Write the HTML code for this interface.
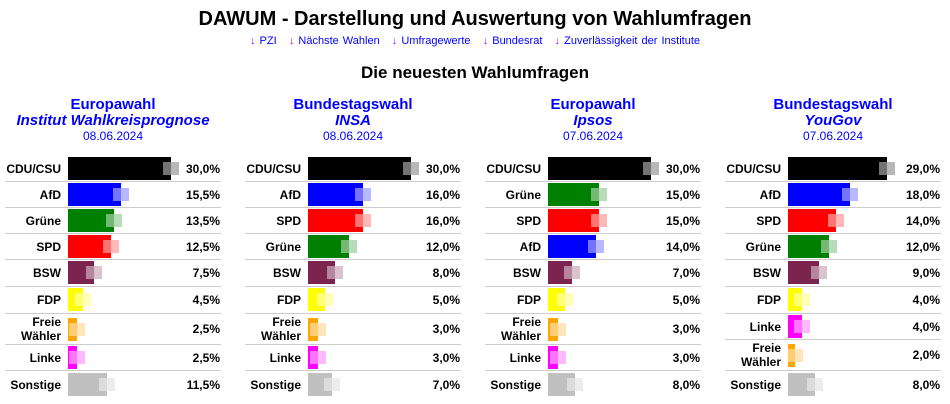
<!DOCTYPE html>
<html><head><meta charset="utf-8"><style>
body{margin:0;width:950px;height:404px;background:#fff;font-family:"Liberation Sans",Arial,sans-serif;position:relative;overflow:hidden}
.t{position:absolute;left:0;width:950px;text-align:center}
.h{position:absolute;width:240px;text-align:center;color:#00f;font-weight:bold;font-size:15px;line-height:16px}
.h i{display:block}
.h span{display:block;font-weight:normal;font-size:12px;line-height:14px}
.r{position:absolute;width:216px;border-bottom:1px solid #ccc;box-sizing:border-box}
.r.l{border-bottom:none}
.lb{position:absolute;right:160px;top:0;height:100%;display:flex;align-items:center;justify-content:flex-end;text-align:right;font-size:12px;font-weight:bold;line-height:14px}
.v{position:absolute;right:1px;top:0;height:100%;display:flex;align-items:center;font-size:12px;font-weight:bold}
.b{position:absolute;left:63px;top:1px;height:23px}
.b::after{content:"";position:absolute;right:0;top:5px;bottom:5px;width:min(8px,100%);background:rgba(255,255,255,.45)}
.b::before{content:"";position:absolute;left:100%;top:5px;bottom:5px;width:8px;background:inherit;opacity:.28}
.ar{color:#a0f}
</style></head><body>
<div class="t" style="top:8px;font-size:20px;font-weight:bold">DAWUM - Darstellung und Auswertung von Wahlumfragen</div>
<div class="t" style="top:35px;font-size:11px;color:#00f;word-spacing:1px"><span class="ar">↓</span> PZI &nbsp; <span class="ar">↓</span> Nächste Wahlen &nbsp; <span class="ar">↓</span> Umfragewerte &nbsp; <span class="ar">↓</span> Bundesrat &nbsp; <span class="ar">↓</span> Zuverlässigkeit der Institute</div>
<div class="t" style="top:63px;font-size:17px;font-weight:bold">Die neuesten Wahlumfragen</div>

<div class="h" style="left:-7px;top:97px">Europawahl<i>Institut Wahlkreisprognose</i><span>08.06.2024</span></div>
<div class="h" style="left:233px;top:97px">Bundestagswahl<i>INSA</i><span>08.06.2024</span></div>
<div class="h" style="left:473px;top:97px">Europawahl<i>Ipsos</i><span>07.06.2024</span></div>
<div class="h" style="left:713px;top:97px">Bundestagswahl<i>YouGov</i><span>07.06.2024</span></div>

<!-- Panel 1 -->
<div class="r" style="left:5px;top:156px;height:26px"><div class="lb">CDU/CSU</div><div class="b" style="width:103px;background:#000"></div><div class="v">30,0%</div></div>
<div class="r" style="left:5px;top:182px;height:26px"><div class="lb">AfD</div><div class="b" style="width:53px;background:#00f"></div><div class="v">15,5%</div></div>
<div class="r" style="left:5px;top:208px;height:26px"><div class="lb">Grüne</div><div class="b" style="width:46px;background:#008000"></div><div class="v">13,5%</div></div>
<div class="r" style="left:5px;top:234px;height:26px"><div class="lb">SPD</div><div class="b" style="width:43px;background:#f00"></div><div class="v">12,5%</div></div>
<div class="r" style="left:5px;top:260px;height:27px"><div class="lb">BSW</div><div class="b" style="width:26px;background:#7b2450"></div><div class="v">7,5%</div></div>
<div class="r" style="left:5px;top:287px;height:27px"><div class="lb">FDP</div><div class="b" style="width:15px;background:#ff0"></div><div class="v">4,5%</div></div>
<div class="r" style="left:5px;top:314px;height:31px"><div class="lb">Freie<br>Wähler</div><div class="b" style="width:9px;background:#ffa500;top:4px"></div><div class="v">2,5%</div></div>
<div class="r" style="left:5px;top:345px;height:26px"><div class="lb">Linke</div><div class="b" style="width:9px;background:#f0f"></div><div class="v">2,5%</div></div>
<div class="r l" style="left:5px;top:371px;height:28px"><div class="lb">Sonstige</div><div class="b" style="width:39px;background:#c0c0c0;top:2px"></div><div class="v">11,5%</div></div>

<!-- Panel 2 -->
<div class="r" style="left:245px;top:156px;height:26px"><div class="lb">CDU/CSU</div><div class="b" style="width:103px;background:#000"></div><div class="v">30,0%</div></div>
<div class="r" style="left:245px;top:182px;height:26px"><div class="lb">AfD</div><div class="b" style="width:55px;background:#00f"></div><div class="v">16,0%</div></div>
<div class="r" style="left:245px;top:208px;height:26px"><div class="lb">SPD</div><div class="b" style="width:55px;background:#f00"></div><div class="v">16,0%</div></div>
<div class="r" style="left:245px;top:234px;height:26px"><div class="lb">Grüne</div><div class="b" style="width:41px;background:#008000"></div><div class="v">12,0%</div></div>
<div class="r" style="left:245px;top:260px;height:27px"><div class="lb">BSW</div><div class="b" style="width:27px;background:#7b2450"></div><div class="v">8,0%</div></div>
<div class="r" style="left:245px;top:287px;height:27px"><div class="lb">FDP</div><div class="b" style="width:17px;background:#ff0"></div><div class="v">5,0%</div></div>
<div class="r" style="left:245px;top:314px;height:31px"><div class="lb">Freie<br>Wähler</div><div class="b" style="width:10px;background:#ffa500;top:4px"></div><div class="v">3,0%</div></div>
<div class="r" style="left:245px;top:345px;height:26px"><div class="lb">Linke</div><div class="b" style="width:10px;background:#f0f"></div><div class="v">3,0%</div></div>
<div class="r l" style="left:245px;top:371px;height:28px"><div class="lb">Sonstige</div><div class="b" style="width:24px;background:#c0c0c0;top:2px"></div><div class="v">7,0%</div></div>

<!-- Panel 3 -->
<div class="r" style="left:485px;top:156px;height:26px"><div class="lb">CDU/CSU</div><div class="b" style="width:103px;background:#000"></div><div class="v">30,0%</div></div>
<div class="r" style="left:485px;top:182px;height:26px"><div class="lb">Grüne</div><div class="b" style="width:51px;background:#008000"></div><div class="v">15,0%</div></div>
<div class="r" style="left:485px;top:208px;height:26px"><div class="lb">SPD</div><div class="b" style="width:51px;background:#f00"></div><div class="v">15,0%</div></div>
<div class="r" style="left:485px;top:234px;height:26px"><div class="lb">AfD</div><div class="b" style="width:48px;background:#00f"></div><div class="v">14,0%</div></div>
<div class="r" style="left:485px;top:260px;height:27px"><div class="lb">BSW</div><div class="b" style="width:24px;background:#7b2450"></div><div class="v">7,0%</div></div>
<div class="r" style="left:485px;top:287px;height:27px"><div class="lb">FDP</div><div class="b" style="width:17px;background:#ff0"></div><div class="v">5,0%</div></div>
<div class="r" style="left:485px;top:314px;height:31px"><div class="lb">Freie<br>Wähler</div><div class="b" style="width:10px;background:#ffa500;top:4px"></div><div class="v">3,0%</div></div>
<div class="r" style="left:485px;top:345px;height:26px"><div class="lb">Linke</div><div class="b" style="width:10px;background:#f0f"></div><div class="v">3,0%</div></div>
<div class="r l" style="left:485px;top:371px;height:28px"><div class="lb">Sonstige</div><div class="b" style="width:27px;background:#c0c0c0;top:2px"></div><div class="v">8,0%</div></div>

<!-- Panel 4 -->
<div class="r" style="left:725px;top:156px;height:26px"><div class="lb">CDU/CSU</div><div class="b" style="width:99px;background:#000"></div><div class="v">29,0%</div></div>
<div class="r" style="left:725px;top:182px;height:26px"><div class="lb">AfD</div><div class="b" style="width:62px;background:#00f"></div><div class="v">18,0%</div></div>
<div class="r" style="left:725px;top:208px;height:26px"><div class="lb">SPD</div><div class="b" style="width:48px;background:#f00"></div><div class="v">14,0%</div></div>
<div class="r" style="left:725px;top:234px;height:26px"><div class="lb">Grüne</div><div class="b" style="width:41px;background:#008000"></div><div class="v">12,0%</div></div>
<div class="r" style="left:725px;top:260px;height:27px"><div class="lb">BSW</div><div class="b" style="width:31px;background:#7b2450"></div><div class="v">9,0%</div></div>
<div class="r" style="left:725px;top:287px;height:27px"><div class="lb">FDP</div><div class="b" style="width:14px;background:#ff0"></div><div class="v">4,0%</div></div>
<div class="r" style="left:725px;top:314px;height:26px"><div class="lb">Linke</div><div class="b" style="width:14px;background:#f0f"></div><div class="v">4,0%</div></div>
<div class="r" style="left:725px;top:340px;height:31px"><div class="lb">Freie<br>Wähler</div><div class="b" style="width:7px;background:#ffa500;top:4px"></div><div class="v">2,0%</div></div>
<div class="r l" style="left:725px;top:371px;height:28px"><div class="lb">Sonstige</div><div class="b" style="width:27px;background:#c0c0c0;top:2px"></div><div class="v">8,0%</div></div>
</body></html>
